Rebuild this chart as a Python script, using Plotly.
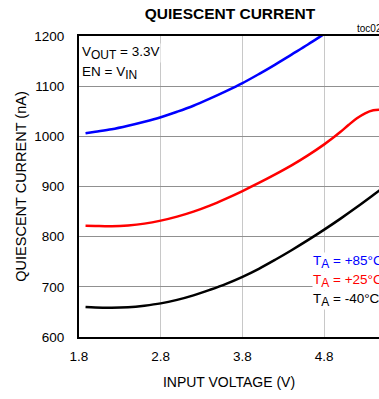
import plotly.graph_objects as go

# Data
v_85 = [1.88, 2.0, 2.2, 2.4, 2.6, 2.8, 3.0, 3.2, 3.4, 3.6, 3.8, 4.0, 4.2, 4.4, 4.6, 4.8, 5.0]
i_85 = [1006, 1009, 1014, 1021, 1029, 1038, 1049, 1061, 1075, 1090, 1106, 1124, 1143, 1163, 1183, 1204, 1225]

v_25 = [1.88, 2.0, 2.2, 2.4, 2.6, 2.8, 3.0, 3.2, 3.4, 3.6, 3.8, 4.0, 4.2, 4.4, 4.6, 4.8, 4.9, 5.0, 5.1, 5.2, 5.3, 5.4, 5.5]
i_25 = [822, 821.5, 821, 822.5, 826, 832, 840, 850, 862, 876, 891, 907, 924, 942, 962, 984, 996, 1009, 1023, 1036, 1046, 1052, 1053]

v_m40 = [1.88, 2.0, 2.2, 2.4, 2.6, 2.8, 3.0, 3.2, 3.4, 3.6, 3.8, 4.0, 4.2, 4.4, 4.6, 4.8, 5.0, 5.2, 5.4, 5.5]
i_m40 = [660, 659, 658.5, 659.5, 662.5, 667, 674, 683, 694, 706, 720, 736, 754, 773, 793, 814, 836, 859, 883, 895]

x_ticks = [1.8, 2.8, 3.8, 4.8]
y_ticks = [600, 700, 800, 900, 1000, 1100, 1200]

FONT = "Liberation Sans, Arial, sans-serif"

fig = go.Figure()
for x, y, c in [(v_85, i_85, "#0000ff"), (v_25, i_25, "#ff0000"), (v_m40, i_m40, "#000000")]:
    fig.add_trace(go.Scatter(x=x, y=y, mode="lines", line=dict(color=c, width=2.5, shape="spline", smoothing=1),
                             showlegend=False, hoverinfo="skip"))

fig.update_layout(
    width=379, height=399,
    margin=dict(l=79, r=0, t=36, b=62),
    paper_bgcolor="white", plot_bgcolor="white",
    font=dict(family=FONT, color="black", size=13.5),
    title=dict(text="<b>QUIESCENT CURRENT</b>", x=230/379, xanchor="center", y=1-14/399, yanchor="middle",
               font=dict(size=15.5, family=FONT)),
    xaxis=dict(range=[1.8, 5.47], tickvals=x_ticks, ticktext=[f"{t:.1f}" for t in x_ticks],
               showgrid=True, gridcolor="#c8c8c8", gridwidth=1.2, ticklabelstandoff=6,
               showline=True, linecolor="black", linewidth=2, mirror=True, ticks="",
               zeroline=False, title=dict(text="INPUT VOLTAGE (V)", font=dict(size=14), standoff=14)),
    yaxis=dict(range=[600, 1200], tickvals=y_ticks, showgrid=True, gridcolor="#909090", gridwidth=1.2,
               showline=True, linecolor="black", linewidth=2, ticks="", zeroline=False, ticklabelstandoff=10,
               title=dict(text="QUIESCENT CURRENT (nA)", font=dict(size=14.5), standoff=4)),
)


def sub(s):
    return f"<sub><span style='font-size:12px'>{s}</span></sub>"


ann = [
    dict(text=f"V{sub('OUT')} = 3.3V", x=1.83, y=1166, font_color="black"),
    dict(text=f"EN = V{sub('IN')}", x=1.83, y=1126, font_color="black"),
    dict(text=f"T{sub('A')} = +85°C", x=4.65, y=749, font_color="#0000ff"),
    dict(text=f"T{sub('A')} = +25°C", x=4.65, y=712, font_color="#ff0000"),
    dict(text=f"T{sub('A')} = -40°C", x=4.65, y=674, font_color="black"),
]
for a in ann:
    fig.add_annotation(x=a["x"], y=a["y"], xref="x", yref="y", text=a["text"], showarrow=False,
                       xanchor="left", yanchor="middle", bgcolor="white",
                       font=dict(size=13.5, color=a["font_color"], family=FONT), borderpad=0)

fig.add_annotation(x=1, y=1, xref="paper", yref="paper", text="toc02", showarrow=False,
                   xanchor="left", yanchor="bottom", xshift=-24, yshift=0, font=dict(size=10, family=FONT))

fig.write_html("out.html")
